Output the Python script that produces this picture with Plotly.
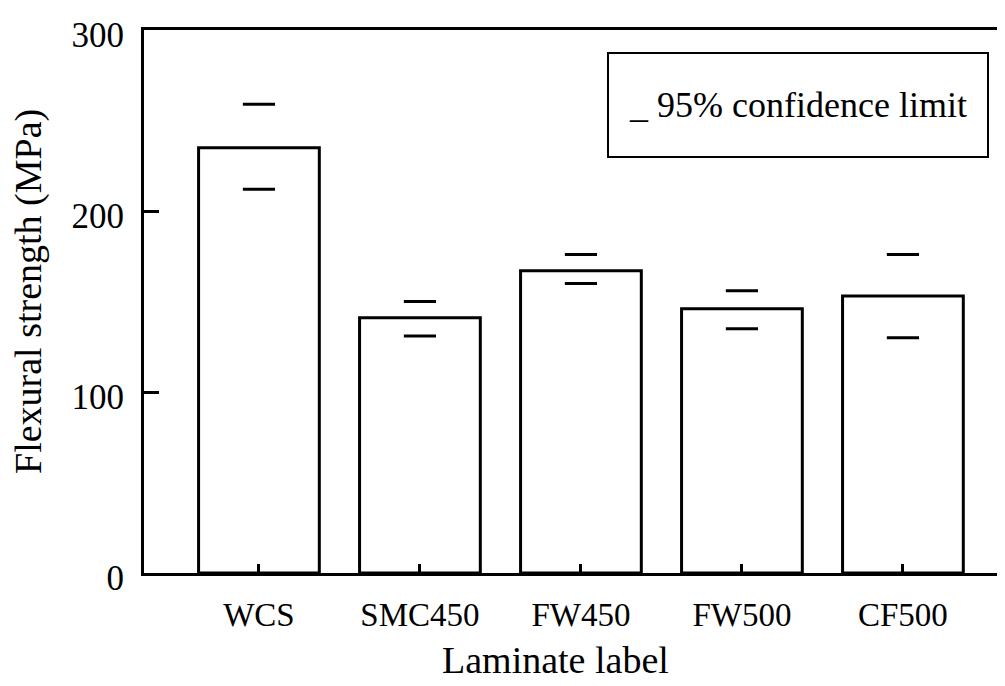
import plotly.graph_objects as go

categories = ["WCS", "SMC450", "FW450", "FW500", "CF500"]
strength = [235, 141, 167, 146, 153]
upper_limit = [259, 150, 176, 156, 176]
lower_limit = [212, 131, 160, 135, 130]
y_ticks = [0, 100, 200, 300]

FONT = "Liberation Serif"

# page body has an 8px default margin: figure is sized/offset to compensate
PLOT_W = 861
PLOT_H = 543

fig = go.Figure()
fig.add_trace(go.Bar(
    x=categories, y=strength, width=0.75,
    marker=dict(color="white", line=dict(color="black", width=3)),
    showlegend=False,
))
for vals in (upper_limit, lower_limit):
    fig.add_trace(go.Scatter(
        x=categories, y=vals, mode="markers",
        marker=dict(symbol="line-ew", size=23, line=dict(color="black", width=3)),
        showlegend=False,
    ))

fig.update_layout(
    width=997, height=678,
    margin=dict(l=136, r=0, t=22, b=113),
    plot_bgcolor="white", paper_bgcolor="white",
    font=dict(family=FONT, color="black", size=34),
    xaxis=dict(
        range=[-0.714, 4.634], showline=True, linecolor="black", linewidth=3,
        mirror=True, ticks="inside", ticklen=9, tickwidth=3, tickcolor="black",
        showgrid=False, zeroline=False, ticklabelstandoff=10,
        tickfont=dict(family=FONT, size=33),
    ),
    yaxis=dict(
        range=[0, 300], showline=True, linecolor="black", linewidth=3,
        ticks="inside", ticklen=15, tickwidth=3, tickcolor="black",
        tickvals=y_ticks, showgrid=False, zeroline=False, ticklabelstandoff=10,
        ticklabelshift=5,
        tickfont=dict(family=FONT, size=35),
    ),
    annotations=[
        dict(text="Laminate label", xref="paper", yref="paper",
             x=(555 - 144) / PLOT_W, y=-(660 - 573) / PLOT_H, xanchor="center", yanchor="middle",
             showarrow=False, font=dict(family=FONT, size=38)),
        dict(text="Flexural strength (MPa)", xref="paper", yref="paper",
             x=(28 - 144) / PLOT_W, y=(573 - 292) / PLOT_H, xanchor="center", yanchor="middle",
             textangle=-90, showarrow=False, font=dict(family=FONT, size=38)),
        dict(text="_ 95% confidence limit", xref="paper", yref="paper",
             x=(607 - 144) / PLOT_W, y=(573 - 52) / PLOT_H, xanchor="left", yanchor="top",
             width=378, height=102, align="center", valign="middle",
             bordercolor="black", borderwidth=2, borderpad=0, bgcolor="white",
             showarrow=False, font=dict(family=FONT, size=36)),
    ],
)

fig.write_html("out.html")
